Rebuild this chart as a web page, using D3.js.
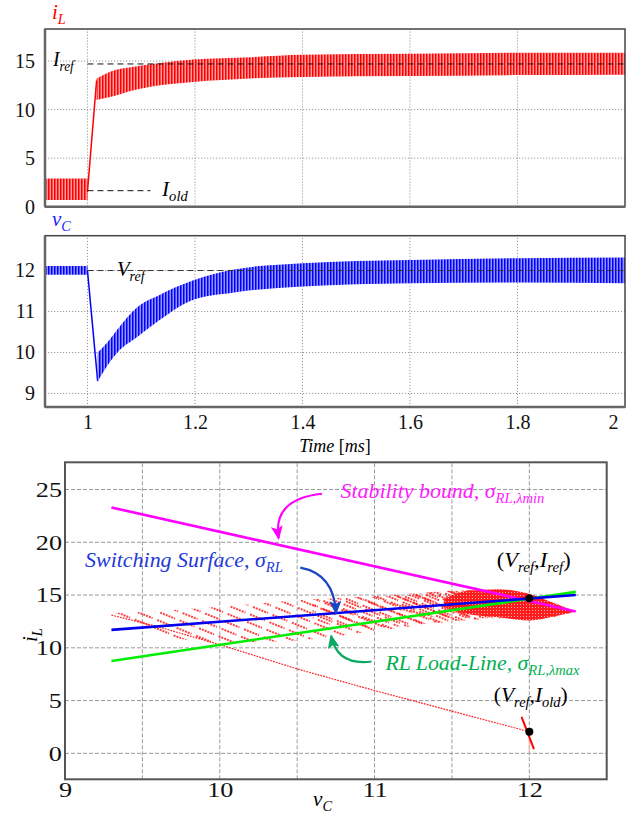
<!DOCTYPE html>
<meta charset="utf-8">
<style>
body { margin: 0; background: #fff; }
svg, svg text { font-family: "Liberation Serif", "DejaVu Serif", "Tinos", "Times New Roman", Times, serif; }
.gridT line { stroke: #9a9a9a; stroke-width: 1; stroke-dasharray: 1.2,1.8; }
.gridB line { stroke: #9a9a9a; stroke-width: 1; stroke-dasharray: 4,2; }
.tk text { font-size: 20px; fill: #111; }
.tkB text { font-size: 21px; fill: #111; }
</style>
<body>
<div id="chart"></div>
<script src="https://cdnjs.cloudflare.com/ajax/libs/d3/7.8.5/d3.min.js"></script>
<script>
// ---------- values ----------
var timeTicks = [1, 1.2, 1.4, 1.6, 1.8, 2];
var iTicks = [0, 5, 10, 15];
var vTicks = [9, 10, 11, 12];
var phaseVTicks = [9, 10, 11, 12];
var phaseITicks = [0, 5, 10, 15, 20, 25];
var phaseVGrid = [9.5, 10, 10.5, 11, 11.5, 12];

// inductor current: ripple envelope before / after the load step
var iPreT = [0.921, 1.0];
var iPreHi = [2.9, 2.9];
var iPreLo = [0.7, 0.7];
var iRampT = [1.0, 1.017];
var iRampV = [1.55, 13.0];
var iPostT = [1.017, 1.042, 1.086, 1.135, 1.197, 1.303, 1.4, 1.6, 1.8, 2.0];
var iPostHi = [13.2, 13.9, 14.4, 14.8, 15.15, 15.4, 15.65, 15.75, 15.85, 15.85];
var iPostLo = [11.0, 11.3, 12.0, 12.5, 12.85, 13.2, 13.35, 13.45, 13.55, 13.6];
var iRef = 14.7, iOld = 1.65;

// capacitor voltage
var vPreT = [0.921, 1.0];
var vPreHi = [12.11, 12.11];
var vPreLo = [11.9, 11.9];
var vRampT = [1.0, 1.019];
var vRampV = [12.0, 9.3];
var vPostT = [1.019, 1.036, 1.055, 1.092, 1.135, 1.197, 1.27, 1.4, 1.6, 1.8, 2.0];
var vPostHi = [10.0, 10.23, 10.55, 11.1, 11.41, 11.76, 12.02, 12.18, 12.26, 12.3, 12.32];
var vPostLo = [9.3, 9.66, 9.99, 10.37, 10.8, 11.29, 11.46, 11.61, 11.69, 11.71, 11.69];
var vRef = 12.0;

// phase plane (vC, iL)
var stabV = [9.3, 12.3], stabI = [23.3, 13.45];
var surfV = [9.3, 12.3], surfI = [11.7, 15.0];
var loadV = [9.3, 12.3], loadI = [8.75, 15.3];
var trajV = [9.3, 9.6, 10.0, 10.5, 11.0, 11.5, 12.0];
var trajI = [13.1, 12.0, 10.3, 8.0, 5.95, 4.0, 2.05];
var initV = [11.95, 12.03], initI = [3.45, 0.4];
var cloudV = [9.3, 9.6, 10.0, 10.5, 11.0, 11.5, 11.8, 12.0, 12.3];
var cloudHi = [13.3, 13.5, 13.9, 14.5, 14.9, 15.4, 15.5, 15.0, 13.45];
var cloudLo = [12.9, 11.3, 10.5, 10.7, 11.6, 12.5, 12.8, 12.6, 13.45];
var midV = [10.6, 11.0, 11.4, 11.8, 12.3];
var midHi = [14.6, 14.85, 15.3, 15.5, 13.45];
var midLo = [12.4, 11.9, 12.4, 12.8, 13.45];
var denseV = [11.15, 11.5, 11.8, 12.3];
var denseHi = [14.9, 15.4, 15.5, 13.45];
var denseLo = [13.6, 12.8, 12.8, 13.45];
var coreV = [11.45, 11.6, 11.8, 12.0, 12.15, 12.3];
var coreHi = [14.6, 15.4, 15.55, 15.1, 14.3, 13.45];
var coreLo = [14.0, 13.2, 12.9, 12.6, 12.95, 13.45];
var refPtV = [12, 12], refPtI = [14.7, 2.05];

// ---------- layout ----------
var W = 633, H = 816;
var svg = d3.select("#chart").append("svg").attr("width", W).attr("height", H);
var defs = svg.append("defs");

function ripplePattern(id, bg, fg) {
  var p = defs.append("pattern").attr("id", id).attr("patternUnits", "userSpaceOnUse")
    .attr("width", 3).attr("height", 4);
  p.append("rect").attr("width", 3).attr("height", 4).attr("fill", bg);
  p.append("rect").attr("width", 1.5).attr("height", 4).attr("fill", fg);
}
ripplePattern("ripR", "#ff9a9a", "#ff0000");
ripplePattern("ripB", "#9494ff", "#0000ff");

function strokePattern(id, off, len, gap) {
  var p = defs.append("pattern").attr("id", id).attr("patternUnits", "userSpaceOnUse")
    .attr("width", len + 5).attr("height", gap)
    .attr("patternTransform", "rotate(22) translate(" + off + "," + off / 2 + ")");
  p.append("line").attr("x1", 0).attr("x2", len).attr("y1", gap / 2).attr("y2", gap / 2)
    .attr("stroke", "#ff0000").attr("stroke-width", 1.4).attr("stroke-dasharray", "2,1");
}
strokePattern("strA", 0, 16, 8);
strokePattern("strB", 5, 13, 6);
strokePattern("strC", 10, 14, 6);
var pd = defs.append("pattern").attr("id", "dense").attr("patternUnits", "userSpaceOnUse")
  .attr("width", 3).attr("height", 3);
pd.append("rect").attr("width", 3).attr("height", 3).attr("fill", "#ff1c1c");
pd.append("rect").attr("x", 1).attr("y", 1).attr("width", 1).attr("height", 1).attr("fill", "#ffb0b0");

function marker(id, col) {
  defs.append("marker").attr("id", id).attr("markerUnits", "userSpaceOnUse")
    .attr("markerWidth", 14).attr("markerHeight", 12).attr("refX", 12).attr("refY", 6)
    .attr("orient", "auto")
    .append("path").attr("d", "M0,0 L14,6 L0,12 L3,6 Z").attr("fill", col);
}
marker("arM", "#ff00ff");
marker("arB", "#1846c4");
marker("arG", "#0aa860");

function zip(ts, a, b) { return ts.map(function(t, k) { return {t: t, a: a[k], b: b ? b[k] : null}; }); }

// fit a text element to a target width (figure text is horizontally stretched)
function placeText(g, x, y, w, build) {
  var t = g.append("text").attr("x", 0).attr("y", 0);
  build(t);
  var bw = t.node().getBBox().width;
  t.attr("transform", "translate(" + x + "," + y + ") scale(" + (w / bw) + ",1)");
  return t;
}
function sub(t, main, s) {
  t.append("tspan").text(main);
  t.append("tspan").attr("dy", 5).attr("font-size", "0.68em").text(s);
}

// ---------- time panels ----------
var xT = d3.scaleLinear().domain([0.921, 2.0]).range([45, 625]);
var yI = d3.scaleLinear().domain([0, 18.3]).range([206.7, 29]);
var yV = d3.scaleLinear().domain([8.67, 12.85]).range([407, 235.7]);

function timePanel(y, ticks, showX) {
  var g = svg.append("g");
  var r = y.range();
  g.append("g").attr("class", "gridT").selectAll("line.v").data(timeTicks.slice(0, -1)).join("line")
    .attr("x1", xT).attr("x2", xT).attr("y1", r[0]).attr("y2", r[1]);
  g.append("g").attr("class", "gridT").selectAll("line.h").data(ticks.filter(function(d) { return y(d) < r[0] - 1; })).join("line")
    .attr("x1", xT.range()[0]).attr("x2", xT.range()[1]).attr("y1", y).attr("y2", y);
  var ay = g.append("g").attr("class", "tk").attr("transform", "translate(" + xT.range()[0] + ",0)")
    .call(d3.axisLeft(y).tickValues(ticks).tickSize(0).tickPadding(10).tickFormat(d3.format("d")));
  ay.attr("font-family", null).select(".domain").remove();
  if (showX) {
    var ax = g.append("g").attr("class", "tk").attr("transform", "translate(0," + r[0] + ")")
      .call(d3.axisBottom(xT).tickValues(timeTicks).tickSize(0).tickPadding(8).tickFormat(d3.format("")));
    ax.attr("font-family", null).select(".domain").remove();
    ax.selectAll(".tick").filter(function(d) { return d === 2; }).select("text").attr("dx", -12);
  }
  return g;
}
var gI = timePanel(yI, iTicks, false);
var gV = timePanel(yV, vTicks, true);

function band(g, y, ts, hi, lo, fill) {
  g.append("path").datum(zip(ts, hi, lo))
    .attr("d", d3.area().x(function(d) { return xT(d.t); }).y0(function(d) { return y(d.b); })
      .y1(function(d) { return y(d.a); }).curve(d3.curveMonotoneX))
    .attr("fill", fill);
}
function line(g, sx, sy, xs, ys, col, w, dash) {
  var p = g.append("path").datum(zip(xs, ys))
    .attr("d", d3.line().x(function(d) { return sx(d.t); }).y(function(d) { return sy(d.a); }))
    .attr("fill", "none").attr("stroke", col).attr("stroke-width", w);
  if (dash) p.attr("stroke-dasharray", dash);
  return p;
}

band(gI, yI, iPreT, iPreHi, iPreLo, "url(#ripR)");
line(gI, xT, yI, iRampT, iRampV, "#ff0000", 1.5);
band(gI, yI, iPostT, iPostHi, iPostLo, "url(#ripR)");
line(gI, xT, yI, [1.0, 2.0], [iRef, iRef], "#111", 1, "6,4");
line(gI, xT, yI, [1.0, 1.117], [iOld, iOld], "#111", 1, "6,4");

band(gV, yV, vPreT, vPreHi, vPreLo, "url(#ripB)");
line(gV, xT, yV, vRampT, vRampV, "#0000ff", 1.5);
band(gV, yV, vPostT, vPostHi, vPostLo, "url(#ripB)");
line(gV, xT, yV, [1.0, 2.0], [vRef, vRef], "#333", 1, "6,4");

[[gI, yI], [gV, yV]].forEach(function(p) {
  var g = p[0], y = p[1], xr = xT.range(), yr = y.range();
  g.append("rect").attr("x", xr[0]).attr("y", yr[1]).attr("width", xr[1] - xr[0]).attr("height", yr[0] - yr[1])
    .attr("fill", "none").attr("stroke", "#444").attr("stroke-width", 1.5);
  g.append("line").attr("x1", xr[0]).attr("x2", xr[0]).attr("y1", yr[1]).attr("y2", yr[0])
    .attr("stroke", "#666").attr("stroke-width", 2.5);
  g.append("line").attr("x1", xr[0]).attr("x2", xr[1]).attr("y1", yr[0]).attr("y2", yr[0])
    .attr("stroke", "#666").attr("stroke-width", 2.5);
});

// labels
var t1 = svg.append("text").attr("x", 52).attr("y", 19).attr("fill", "#ff0000").attr("font-size", 21).attr("font-style", "italic");
sub(t1, "i", "L");
var t2 = svg.append("text").attr("x", 52).attr("y", 226).attr("fill", "#1a1aff").attr("font-size", 21).attr("font-style", "italic");
sub(t2, "v", "C");
placeText(svg, 53, 66, 24, function(t) { t.attr("font-size", 20).attr("font-style", "italic"); sub(t, "I", "ref"); });
placeText(svg, 162, 196, 27, function(t) { t.attr("font-size", 20).attr("font-style", "italic"); sub(t, "I", "old"); });
placeText(svg, 117, 276, 30, function(t) { t.attr("font-size", 20).attr("font-style", "italic"); sub(t, "V", "ref"); });
var tt = svg.append("text").attr("x", 335).attr("y", 452).attr("text-anchor", "middle").attr("font-size", 18);
tt.append("tspan").attr("font-style", "italic").text("Time");
tt.append("tspan").text(" [");
tt.append("tspan").attr("font-style", "italic").text("ms");
tt.append("tspan").text("]");

// ---------- phase plane ----------
var xP = d3.scaleLinear().domain([9, 12.5]).range([65, 606.7]);
var yP = d3.scaleLinear().domain([-2.46, 27.58]).range([779.3, 462.3]);
var gP = svg.append("g");
gP.append("g").attr("class", "gridB").selectAll("line").data(phaseVGrid).join("line")
  .attr("x1", xP).attr("x2", xP).attr("y1", yP.range()[0]).attr("y2", yP.range()[1]);
gP.append("g").attr("class", "gridB").selectAll("line").data(phaseITicks).join("line")
  .attr("x1", xP.range()[0]).attr("x2", xP.range()[1]).attr("y1", yP).attr("y2", yP);

var axP = gP.append("g").attr("class", "tkB").attr("transform", "translate(0," + yP.range()[0] + ")")
  .call(d3.axisBottom(xP).tickValues(phaseVTicks).tickSize(0).tickPadding(3).tickFormat(d3.format("d")));
axP.attr("font-family", null).select(".domain").remove();
axP.selectAll("text").attr("transform", "scale(1.25,1)");
var ayP = gP.append("g").attr("class", "tkB").attr("transform", "translate(" + xP.range()[0] + ",0)")
  .call(d3.axisLeft(yP).tickValues(phaseITicks).tickSize(0).tickFormat(d3.format("d")));
ayP.attr("font-family", null).select(".domain").remove();
ayP.selectAll("text").attr("x", 0).attr("transform", "translate(-3,0) scale(1.25,1)");

function region(vs, hi, lo, fill) {
  gP.append("path").datum(zip(vs, hi, lo))
    .attr("d", d3.area().x(function(d) { return xP(d.t); }).y0(function(d) { return yP(d.b); })
      .y1(function(d) { return yP(d.a); }).curve(d3.curveMonotoneX))
    .attr("fill", fill);
}
region(cloudV, cloudHi, cloudLo, "url(#strA)");
region(midV, midHi, midLo, "url(#strB)");
region(denseV, denseHi, denseLo, "url(#strC)");
region(coreV, coreHi, coreLo, "url(#dense)");
line(gP, xP, yP, trajV, trajI, "#ff2020", 1.2, "1.8,1.1");
line(gP, xP, yP, [12, 12], [2.05, 0], "#ffa0a0", 1);
line(gP, xP, yP, initV, initI, "#ff0000", 2);
line(gP, xP, yP, stabV, stabI, "#ff00ff", 2.6);
line(gP, xP, yP, loadV, loadI, "#00ee00", 2.6);
line(gP, xP, yP, surfV, surfI, "#0000ee", 2.6);
gP.selectAll("circle").data(zip(refPtV, refPtI)).join("circle")
  .attr("cx", function(d) { return xP(d.t); }).attr("cy", function(d) { return yP(d.a); })
  .attr("r", 4).attr("fill", "#000");

gP.append("rect").attr("x", xP.range()[0]).attr("y", yP.range()[1])
  .attr("width", xP.range()[1] - xP.range()[0]).attr("height", yP.range()[0] - yP.range()[1])
  .attr("fill", "none").attr("stroke", "#555").attr("stroke-width", 2);

// curved arrows: start, control, end in data units
function arrow(s, c, e, col, mk) {
  var p = d3.path();
  p.moveTo(xP(s[0]), yP(s[1]));
  p.quadraticCurveTo(xP(c[0]), yP(c[1]), xP(e[0]), yP(e[1]));
  gP.append("path").attr("d", p.toString()).attr("fill", "none").attr("stroke", col)
    .attr("stroke-width", 2.2).attr("marker-end", "url(#" + mk + ")");
}
arrow([10.66, 24.6], [10.34, 24.1], [10.38, 20.4], "#ff00ff", "arM");
arrow([10.52, 17.6], [10.74, 17.0], [10.75, 13.3], "#1846c4", "arB");
arrow([10.98, 8.7], [10.76, 8.3], [10.72, 11.1], "#0aa860", "arG");

function ann(v, i, w, col, build) {
  return placeText(gP, xP(v), yP(i), w, function(t) {
    t.attr("font-size", 21).attr("fill", col).attr("font-style", "italic"); build(t);
  });
}
ann(10.78, 24.2, 204, "#ff1aff", function(t) {
  t.append("tspan").text("Stability bound, σ");
  t.append("tspan").attr("dy", 5).attr("font-size", 14).text("RL,λmin");
});
ann(9.13, 17.7, 198, "#2238d8", function(t) {
  t.append("tspan").text("Switching Surface, σ");
  t.append("tspan").attr("dy", 5).attr("font-size", 14).text("RL");
});
ann(11.07, 7.9, 196, "#00b050", function(t) {
  t.append("tspan").text("RL Load-Line, σ");
  t.append("tspan").attr("dy", 5).attr("font-size", 14).text("RL,λmax");
});
function pairLabel(v, i, s2) {
  placeText(gP, xP(v), yP(i), 74, function(t) {
    t.attr("font-size", 21).attr("fill", "#000");
    t.append("tspan").text("(");
    t.append("tspan").attr("font-style", "italic").text("V");
    t.append("tspan").attr("dy", 5).attr("font-size", 14).attr("font-style", "italic").text("ref");
    t.append("tspan").attr("dy", -5).text(",");
    t.append("tspan").attr("font-style", "italic").text("I");
    t.append("tspan").attr("dy", 5).attr("font-size", 14).attr("font-style", "italic").text(s2);
    t.append("tspan").attr("dy", -5).text(")");
  });
}
pairLabel(11.79, 17.7, "ref");
pairLabel(11.77, 4.9, "old");

placeText(svg, 313, 806, 20, function(t) {
  t.attr("font-size", 20).attr("font-style", "italic"); sub(t, "v", "C");
});
var yl = svg.append("text").attr("transform", "translate(37,642) rotate(-90)")
  .attr("font-size", 21).attr("font-style", "italic");
sub(yl, "i", "L");
</script>
</body>
